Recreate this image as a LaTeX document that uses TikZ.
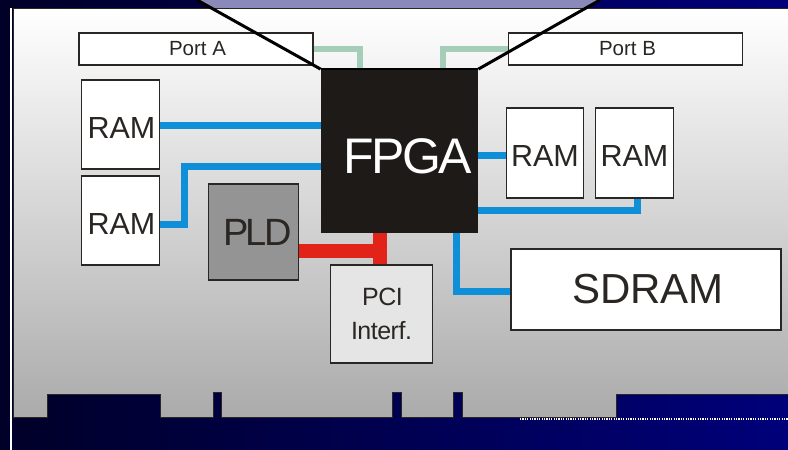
\documentclass[tikz,border=0pt]{standalone}
\usepackage{fontspec}
\setmainfont{Liberation Sans}
\definecolor{bluebus}{HTML}{0E8FD8}
\definecolor{greenbus}{HTML}{A6CDB8}
\definecolor{redbus}{HTML}{E2231A}
\definecolor{ink}{HTML}{2A2624}
\definecolor{chip}{HTML}{1E1A18}
\definecolor{lav}{HTML}{8A8ABA}
\definecolor{navyleft}{HTML}{000028}
\definecolor{navyright}{HTML}{00007A}
\newcommand{\dropped}[2]{\raisebox{-#1pt}[0pt][0pt]{#2}}
\tikzset{
  x=1pt,y=-1pt,
  block/.style={draw=ink,line width=1.8pt,fill=white,inner sep=0pt,text=ink,align=center},
  ram/.style={block,minimum width=78pt,minimum height=89pt,font=\fontsize{30.5}{32}\selectfont},
  port/.style={block,line width=1.4pt,minimum width=234pt,minimum height=32pt,font=\fontsize{20.5}{22}\selectfont},
  bluewire/.style={bluebus,line width=7pt},
  greenwire/.style={greenbus,line width=6pt},
  redwire/.style={redbus,line width=14pt},
  hood/.style={black,line width=3pt}
}
\begin{document}
\begin{tikzpicture}
\useasboundingbox (0,0) rectangle (788,450);
% background
\shade[left color=navyleft,right color=navyright] (0,0) rectangle (788,450);
\fill[lav] (197,0) -- (600,0) -- (586,8) -- (211,8) -- cycle;
% card
\draw[white,line width=2pt] (11,8) -- (11,450);
\shade[top color=white,bottom color=black!33,draw=ink,line width=.7pt]
  (13,8) -- (788,8) -- (788,417) -- (788,394) -- (616,394) -- (616,417) -- (462,417) -- (462,392) -- (453,392) -- (453,417)
  -- (401,417) -- (401,392) -- (392,392) -- (392,417) -- (221,417) -- (221,392) -- (213,392) -- (213,417)
  -- (160,417) -- (160,394) -- (47,394) -- (47,417) -- (13,417) -- cycle;
\draw[white,line width=1.5pt,dash pattern=on 1.2pt off 1.2pt] (520,419) -- (788,419);
% blocks
\node[port] (porta) at (196,49) {\hspace*{3pt}Port A};
\node[port] (portb) at (625.5,49) {\hspace*{4pt}Port B};
\node[ram] (ram1) at (120.5,124.5) {\hspace*{2pt}\dropped{13.5}{RAM}};
\node[ram] (ram2) at (120.5,220.5) {\hspace*{2pt}\dropped{13.5}{RAM}};
\node[ram,minimum width=77pt,minimum height=90pt] (ram3) at (545,153) {\dropped{13}{RAM}};
\node[ram,minimum width=78pt,minimum height=90pt] (ram4) at (634.5,153) {\dropped{13}{RAM}};
\node[block,fill=black!42,minimum width=90pt,minimum height=96pt,font=\fontsize{38}{40}\selectfont\addfontfeature{LetterSpace=-7}] (pld) at (253.5,232) {\hspace*{8pt}PLD};
\node[block,fill=chip,draw=chip,text=white,minimum width=156pt,minimum height=162pt,font=\fontsize{50}{54}\selectfont\addfontfeature{LetterSpace=-5}] (fpga) at (399.5,151) {\hspace*{16pt}\dropped{22}{FPGA}};
\node[block,fill=black!10,minimum width=102pt,minimum height=98pt,font=\fontsize{25}{34}\selectfont\addfontfeature{LetterSpace=-2}] (pci) at (381.5,314) {\hspace*{2pt}PCI\\Interf.};
\node[block,minimum width=270pt,minimum height=81pt,font=\fontsize{42}{44}\selectfont] (sdram) at (646,289.5) {\hspace*{4pt}SDRAM};
% port wires
\coordinate (ga) at (360,49);
\coordinate (gb) at (443,49);
\draw[greenwire] (porta.east) -- (ga) -- (ga |- fpga.north);
\draw[greenwire] (portb.west) -- (gb) -- (gb |- fpga.north);
% hood
\coordinate (ha) at (197,0);
\coordinate (hb) at (600,0);
\draw[hood] (ha) -- (fpga.north west);
\draw[hood] (hb) -- (fpga.north east);
\draw[black,line width=2pt] (fpga.north west) -- (fpga.north east);
% blue buses
\coordinate (b1) at (160,125);
\coordinate (b2) at (160,224);
\coordinate (b2a) at (184,224);
\coordinate (b2b) at (184,166);
\coordinate (b3) at (478,155);
\coordinate (b4) at (478,210);
\coordinate (b4a) at (637,210);
\coordinate (b5) at (456,232);
\coordinate (b5a) at (456,291);
\draw[bluewire] (b1 -| ram1.east) -- (b1 -| fpga.west);
\draw[bluewire] (b2 -| ram2.east) -- (b2a) -- (b2b) -- (b2b -| fpga.west);
\draw[bluewire] (b3 -| fpga.east) -- (b3 -| ram3.west);
\draw[bluewire] (b4 -| fpga.east) -- (b4a) -- (b4a |- ram4.south);
\draw[bluewire] (b5 |- fpga.south) -- (b5a) -- (b5a -| sdram.west);
% red bus
\coordinate (r1) at (380,251);
\draw[redwire] (pld.east |- r1) -- (r1);
\draw[redwire] (r1 |- fpga.south) -- (r1 |- pci.north);
\end{tikzpicture}
\end{document}
